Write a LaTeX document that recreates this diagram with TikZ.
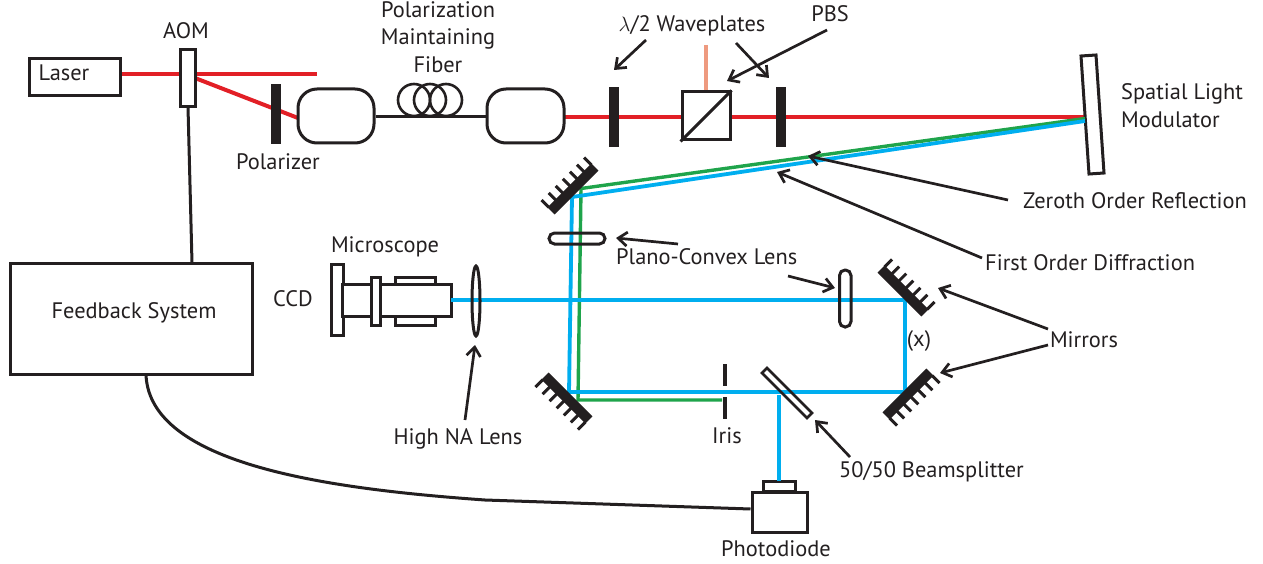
\documentclass[tikz,border=0pt]{standalone}
\usepackage{fontspec}
\setmainfont{PT Sans}
\usetikzlibrary{arrows.meta}
\definecolor{ink}{HTML}{231F20}
\definecolor{redbeam}{HTML}{E21F26}
\definecolor{greenbeam}{HTML}{1FA44B}
\definecolor{bluebeam}{HTML}{00AEEF}
\definecolor{pinkbeam}{HTML}{EE9A7F}
\tikzset{
  lbl/.style={inner sep=0pt,text=ink,font=\fontsize{22.4}{24}\selectfont,anchor=base},
  lblL/.style={lbl,anchor=base west},
  box/.style={draw=ink,line width=3pt,fill=white,line join=miter},
  rbox/.style={draw=ink,line width=3pt,rounded corners=19pt},
  plate/.style={fill=ink},
  wire/.style={draw=ink,line width=3pt},
  beamR/.style={draw=redbeam,line width=4pt},
  grn/.style={draw=greenbeam,line width=3.4pt,line join=miter},
  blu/.style={draw=bluebeam,line width=3.8pt,line join=miter},
  arr/.style={draw=ink,line width=2.7pt,-{Straight Barb[length=9pt,width=14pt,line width=2.7pt]}},
  lens/.style={draw=ink,line width=3pt,rounded corners=5.5pt},
}
\newcommand{\mirrorart}[3]{%
  \begin{scope}[shift={(#1,#2)},rotate=#3]
    \fill[ink] (-31,-5) rectangle (31,5);
    \foreach \t in {-30,-20,-10,0,10,20,30}
      \draw[ink,line width=3pt] (\t,-4) -- (\t,-14.5);
  \end{scope}}
\begin{document}
\begin{tikzpicture}[x=1pt,y=-1pt]
\useasboundingbox (0,0) rectangle (1263,564);
% beam coordinates
\coordinate (laserR) at (121,74);
\coordinate (zeroEnd) at (317,74);
\coordinate (aomOut) at (195,78);
\coordinate (colIn) at (298,118);
\coordinate (col2R) at (564,117);
\coordinate (slmIn) at (1085,117);
\coordinate (slmG) at (1085,118.5);
\coordinate (slmB) at (1085,121);
\coordinate (m1G) at (581,188.5);
\coordinate (m1B) at (572,197);
\coordinate (m2G) at (578,400);
\coordinate (m2B) at (569,392);
\coordinate (irisG) at (722,400);
\coordinate (m4B) at (905,392);
\coordinate (m3B) at (905,300);
\coordinate (ccdB) at (451,300);
\coordinate (bsB) at (779,395);
\coordinate (pdB) at (779,481);
\coordinate (pinkT) at (706,45);
\coordinate (pinkB) at (706,92);
% red and pink beams
\draw[beamR] (laserR) -- (zeroEnd);
\draw[beamR] (aomOut) -- (colIn);
\draw[beamR] (col2R) -- (slmIn);
\draw[draw=pinkbeam,line width=4pt] (pinkT) -- (pinkB);
% components
\node[box,minimum width=91pt,minimum height=37pt,inner sep=0pt] (laser) at (75,77) {};
\node[box,minimum width=15pt,minimum height=57pt,inner sep=0pt] (aom) at (187.5,78.5) {};
\fill[plate] (271,84) rectangle (281,144);
\node[rbox,minimum width=76pt,minimum height=54pt,inner sep=0pt] (colA) at (336,116) {};
\node[rbox,minimum width=77pt,minimum height=54pt,inner sep=0pt] (colB) at (525.5,116) {};
\draw[wire] (colA.east |- 0,117) -- (colB.west |- 0,117);
\foreach \cx in {414,430,446} \draw[ink,line width=2.6pt] (\cx,100) circle[radius=16];
\fill[plate] (609,87) rectangle (619,147);
\fill[plate] (776,87) rectangle (786,147);
\node[box,minimum width=48pt,minimum height=48pt,inner sep=0pt] (pbs) at (706,116) {};
\draw[wire] (pbs.south west) -- (pbs.north east);
\draw[draw=ink,line width=3pt,fill=white] (1081,56) -- (1096,55) -- (1104,173) -- (1089,174) -- cycle;
% feedback
\node[box,minimum width=242pt,minimum height=111pt,inner sep=0pt] (fb) at (131,318.5) {};
\coordinate (aomB) at (188,107);
\coordinate (fbT) at (192,263);
\draw[wire] (aomB) -- (fbT);
\coordinate (fbB) at (146,375);
\coordinate (kink) at (485,500);
\coordinate (c1) at (150,465);
\coordinate (c2) at (330,489);
\draw[wire] (fbB) .. controls (c1) and (c2) .. (kink);
\node[box,minimum width=55pt,minimum height=40pt,inner sep=0pt] (pd) at (779.5,512) {};
\node[box,minimum width=32pt,minimum height=10pt,inner sep=0pt] (pdcap) at (779,486) {};
\draw[wire] (kink) -- (pd.west |- 0,509);
% microscope
\node[box,minimum width=12pt,minimum height=71pt,inner sep=0pt] (ccd) at (337,299.5) {};
\node[box,minimum width=40pt,minimum height=48pt,inner sep=0pt] (sleeve) at (415,301) {};
\node[box,minimum width=29pt,minimum height=32pt,inner sep=0pt] (tube1) at (357,300) {};
\node[box,minimum width=9pt,minimum height=48pt,inner sep=0pt] (collar) at (375.5,301) {};
\node[box,minimum width=71pt,minimum height=32pt,inner sep=0pt] (tube2) at (415.5,300) {};
% beams blue/green
\draw[grn] (slmG) -- (m1G) -- (m2G) -- (irisG);
\draw[blu] (slmB) -- (m1B) -- (m2B) -- (m4B) -- (m3B) -- (ccdB);
\draw[blu] (bsB) -- (pdB);
% lenses
\draw[lens] (549,233) rectangle (605,244);
\draw[lens] (839.5,270) rectangle (851,327);
\draw[draw=ink,line width=3pt] (476,301) ellipse[x radius=4,y radius=35];
% iris, beamsplitter
\fill[plate] (723,364) rectangle (727,386);
\fill[plate] (723,397) rectangle (727,419);
\draw[draw=ink,line width=2.6pt] (767,368) -- (762,373) -- (807,418) -- (812,413) -- cycle;
% mirrors
\mirrorart{573}{189}{45}
\mirrorart{567}{398}{135}
\mirrorart{903}{291}{-45}
\mirrorart{908}{394}{-135}
% labels
\node[lbl] (tLaser) at (64,81) {Laser};
\node[lbl] (tAom) at (186,39) {AOM};
\node[lbl] (tPol) at (278,170) {Polarizer};
\node[lbl] (tPm1) at (438,18) {Polarization};
\node[lbl] (tPm2) at (438,45) {Maintaining};
\node[lbl] (tPm3) at (438,73) {Fiber};
\node[lbl] (tWave) at (692,32) {$\lambda$/2 Waveplates};
\node[lbl] (tPbs) at (830,22) {PBS};
\node[lblL] (tSlm1) at (1121,100) {Spatial Light};
\node[lblL] (tSlm2) at (1121,128) {Modulator};
\node[lblL] (tZero) at (1023,208) {Zeroth Order Reflection};
\node[lblL] (tFirst) at (985,270) {First Order Diffraction};
\node[lblL] (tPlano) at (616,264) {Plano-Convex Lens};
\node[lbl] (tMic) at (385,252) {Microscope};
\node[lbl] (tCcd) at (293,306) {CCD};
\node[lbl] (tFb) at (134,318) {Feedback System};
\node[lbl] (tNa) at (458,444) {High NA Lens};
\node[lbl] (tIris) at (727,443) {Iris};
\node[lblL] (tBs) at (839,477) {50/50 Beamsplitter};
\node[lbl] (tPd) at (776,556) {Photodiode};
\node[lbl] (tX) at (919,346) {(x)};
\node[lbl] (tMir) at (1084,347) {Mirrors};
% arrows
\coordinate (a1s) at (646,40); \coordinate (a1e) at (614,70);
\coordinate (a2s) at (736,43); \coordinate (a2e) at (769,78);
\coordinate (a3s) at (827,30); \coordinate (a3e) at (727,81);
\coordinate (a4s) at (1008,200); \coordinate (a4e) at (808,156);
\coordinate (a5s) at (982,258); \coordinate (a5e) at (777,172);
\coordinate (a6s) at (678,244); \coordinate (a6e) at (616,238);
\coordinate (a7s) at (788,276); \coordinate (a7e) at (835,288);
\coordinate (a8s) at (1048,329); \coordinate (a8e) at (938,288);
\coordinate (a9s) at (1048,345); \coordinate (a9e) at (940,373);
\coordinate (a10s) at (465,420); \coordinate (a10e) at (475,345);
\coordinate (a11s) at (850,457); \coordinate (a11e) at (815,420);
\foreach \n in {1,...,11} \draw[arr] (a\n s) -- (a\n e);
\end{tikzpicture}
\end{document}
